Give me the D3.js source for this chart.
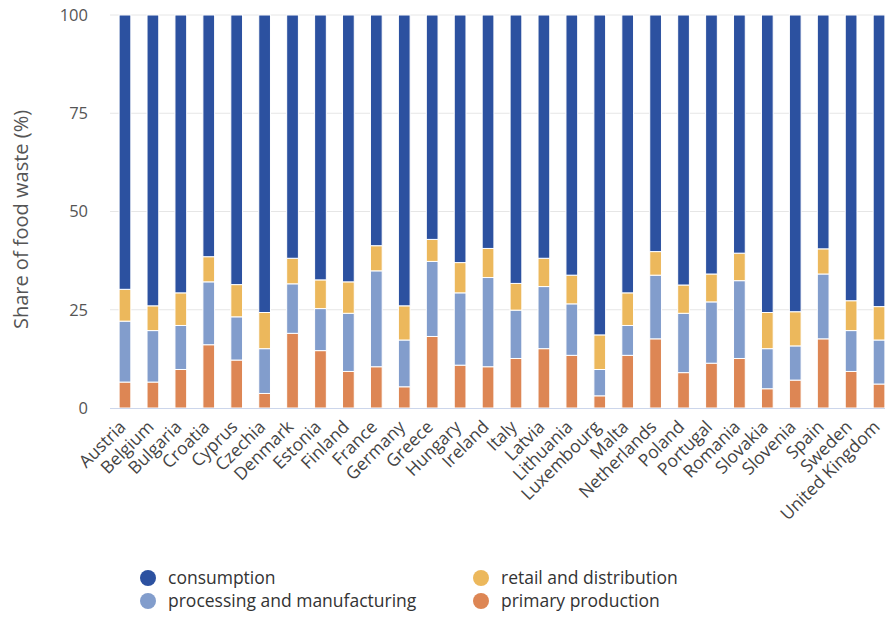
<!DOCTYPE html>
<html>
<head>
<meta charset="utf-8">
<script src="https://cdn.jsdelivr.net/npm/d3@7"></script>
<style>
  body { margin: 0; background: #fff; }
  svg { display: block; font-family: 'Open Sans', sans-serif; }
</style>
</head>
<body>
<svg id="chart" width="885" height="618"></svg>
<script>
const countries = ['Austria', 'Belgium', 'Bulgaria', 'Croatia', 'Cyprus', 'Czechia', 'Denmark',
  'Estonia', 'Finland', 'France', 'Germany', 'Greece', 'Hungary', 'Ireland', 'Italy', 'Latvia',
  'Lithuania', 'Luxembourg', 'Malta', 'Netherlands', 'Poland', 'Portugal', 'Romania', 'Slovakia',
  'Slovenia', 'Spain', 'Sweden', 'United Kingdom']

// shares in %
const primary = [6.6, 6.6, 9.8, 16.1, 12.2, 3.7, 19.0, 14.6, 9.3, 10.5, 5.4, 18.2, 10.9, 10.5,
  12.6, 15.1, 13.4, 3.1, 13.4, 17.6, 9.0, 11.4, 12.6, 4.9, 7.1, 17.6, 9.3, 6.1]
const processing = [15.5, 13.1, 11.2, 16.0, 11.0, 11.4, 12.6, 10.7, 14.8, 24.4, 11.9, 19.1, 18.4, 22.7,
  12.3, 15.8, 13.1, 6.7, 7.6, 16.2, 15.1, 15.6, 19.8, 10.2, 8.7, 16.5, 10.4, 11.2]
const retail = [8.1, 6.3, 8.3, 6.4, 8.2, 9.2, 6.5, 7.3, 8.0, 6.4, 8.7, 5.6, 7.7, 7.4,
  6.8, 7.2, 7.3, 8.8, 8.3, 6.0, 7.2, 7.1, 7.0, 9.2, 8.7, 6.4, 7.6, 8.5]
const consumption = [69.8, 74.0, 70.7, 61.5, 68.6, 75.7, 61.9, 67.4, 67.9, 58.7, 74.0, 57.1, 63.0, 59.4,
  68.3, 61.9, 66.2, 81.4, 70.7, 60.2, 68.7, 65.9, 60.6, 75.7, 75.5, 59.5, 72.7, 74.2]
const yTicks = [0, 25, 50, 75, 100]

const series = [
  { key: 'primary', name: 'primary production', color: '#dd8654', values: primary },
  { key: 'processing', name: 'processing and manufacturing', color: '#829dcc', values: processing },
  { key: 'retail', name: 'retail and distribution', color: '#ecb85c', values: retail },
  { key: 'consumption', name: 'consumption', color: '#2c51a0', values: consumption },
]

const rows = countries.map((c, i) => {
  const row = { country: c }
  series.forEach(s => { row[s.key] = s.values[i] })
  return row
})

const svg = d3.select('#chart')
// plot runs past the right edge, as in the original crop
const x = d3.scaleBand().domain(countries).range([111, 893]).paddingInner(0.58).paddingOuter(0.29)
const y = d3.scaleLinear().domain([0, 100]).range([408, 15])

// grid
svg.append('g')
  .selectAll('line')
  .data(yTicks.filter(t => t > 0))
  .join('line')
  .attr('x1', 110).attr('x2', 885)
  .attr('y1', d => y(d)).attr('y2', d => y(d))
  .attr('stroke', '#e6e6e6')

const stack = d3.stack().keys(series.map(s => s.key))
const layers = stack(rows)

svg.append('g')
  .selectAll('g')
  .data(layers)
  .join('g')
  .attr('fill', (d, i) => series[i].color)
  .selectAll('rect')
  .data(d => d)
  .join('rect')
  .attr('x', d => x(d.data.country))
  .attr('width', x.bandwidth())
  .attr('y', d => y(d[1]))
  .attr('height', d => y(d[0]) - y(d[1]))
  .attr('stroke', '#fff')
  .attr('stroke-width', 1)

// baseline
svg.append('line')
  .attr('x1', 110).attr('x2', 885)
  .attr('y1', y(0) + 0.5).attr('y2', y(0) + 0.5)
  .attr('stroke', '#ccd6eb')

// y axis labels
const yAxis = svg.append('g')
  .attr('transform', 'translate(88,0)')
  .call(d3.axisLeft(y).tickValues(yTicks).tickSize(0).tickPadding(0))
yAxis.select('.domain').remove()
yAxis.selectAll('text')
  .attr('font-size', 16.5)
  .attr('font-family', "'Open Sans', sans-serif")
  .attr('fill', '#555')

svg.append('text')
  .attr('transform', `translate(28,${y(50) + 8}) rotate(-90)`)
  .attr('text-anchor', 'middle')
  .attr('font-size', 20)
  .attr('fill', '#555')
  .text('Share of food waste  (%)')

// x labels
svg.append('g')
  .selectAll('text')
  .data(countries)
  .join('text')
  .attr('transform', d => `translate(${x(d) + x.bandwidth() / 2 + 2},${y(0) + 20}) rotate(-45)`)
  .attr('text-anchor', 'end')
  .attr('font-size', 17.5)
  .attr('fill', '#444')
  .text(d => d)

// legend
const legendOrder = ['consumption', 'retail', 'processing', 'primary']
const legend = svg.append('g')
  .selectAll('g')
  .data(legendOrder.map(k => series.find(s => s.key === k)))
  .join('g')
  .attr('transform', (d, i) => `translate(${i % 2 === 0 ? 148 : 481},${i < 2 ? 578 : 601})`)
legend.append('circle')
  .attr('r', 8)
  .attr('fill', d => d.color)
legend.append('text')
  .attr('x', 20)
  .attr('dy', '0.35em')
  .attr('font-size', 17.5)
  .attr('fill', '#333')
  .text(d => d.name)
</script>
</body>
</html>
